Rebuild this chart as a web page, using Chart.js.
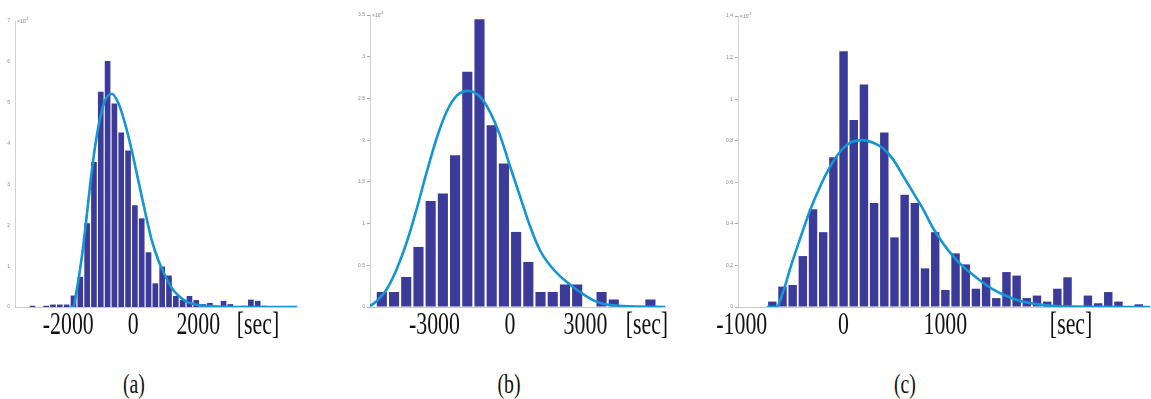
<!DOCTYPE html>
<html>
<head>
<meta charset="utf-8">
<script src="https://cdn.jsdelivr.net/npm/chart.js@4.4.1/dist/chart.umd.min.js"></script>
<style>
  body { margin: 0; width: 1151px; height: 399px; background: #fff; position: relative; overflow: hidden; }
  canvas { position: absolute; top: 0; }
  .cap { position: absolute; top: 368px; width: 80px; text-align: center; font: 28px "Liberation Serif", serif; color: #111; transform: scaleX(0.705); }
</style>
</head>
<body>
<canvas id="chartA" width="320" height="345" style="left:0px"></canvas>
<canvas id="chartB" width="345" height="345" style="left:330px"></canvas>
<canvas id="chartC" width="461" height="345" style="left:690px"></canvas>
<div class="cap" style="left:94px">(a)</div>
<div class="cap" style="left:469px">(b)</div>
<div class="cap" style="left:865px">(c)</div>
<script>
// panel (a): bin centers [sec] and density (x1e-4)
const binsA = [-3100, -2890, -2680, -2470, -2260, -2050, -1840, -1630, -1420, -1210, -1000, -790, -580, -370, -160, 50, 260, 470, 680, 890, 1100, 1310, 1520, 1730, 1940, 2150, 2360, 2570, 2780, 2990, 3200, 3410, 3620, 3830, 4040];
const densA = [0.03, 0, 0.03, 0.06, 0.06, 0.06, 0.28, 0.74, 2.05, 3.55, 5.27, 6.02, 4.98, 4.27, 3.83, 2.49, 2.17, 1.34, 0.58, 0.99, 0.77, 0.27, 0.17, 0.27, 0.17, 0.07, 0.1, 0.03, 0.15, 0.07, 0, 0.03, 0.18, 0.15, 0.03];
const fitXA = [-1950, -1846, -1744, -1641, -1538, -1436, -1333, -1180, -1026, -872, -667, -462, -256, -51, 154, 359, 564, 769, 974, 1179, 1385, 1641, 2051, 2564, 3000, 5040];
const fitYA = [0, 0, 0.4, 0.9, 1.5, 2.2, 2.95, 3.9, 4.6, 5.05, 5.22, 5.0, 4.5, 3.85, 3.1, 2.35, 1.65, 1.15, 0.78, 0.47, 0.28, 0.13, 0.04, 0.01, 0, 0];
const xTicksA = [-2000, 0, 2000];

// panel (b): density (x1e-4)
const binsB = [-5090, -4605, -4120, -3635, -3150, -2665, -2180, -1695, -1210, -725, -240, 245, 730, 1215, 1700, 2185, 2670, 3155, 3640, 4125, 4610, 5095, 5580];
const densB = [0.18, 0.18, 0.36, 0.72, 1.27, 1.36, 1.82, 2.82, 3.45, 2.18, 1.72, 0.9, 0.54, 0.18, 0.18, 0.27, 0.27, 0, 0.18, 0.09, 0, 0, 0.09];
const fitXB = [-5560, -5300, -4903, -4505, -4108, -3710, -3313, -2915, -2518, -2120, -1656, -1193, -795, -398, 0, 398, 795, 1193, 1590, 1988, 2385, 2783, 3313, 3700, 4108, 5168, 6160];
const fitYB = [0.01, 0.07, 0.21, 0.45, 0.77, 1.17, 1.61, 2.02, 2.34, 2.53, 2.59, 2.52, 2.34, 2.06, 1.69, 1.33, 0.97, 0.68, 0.5, 0.37, 0.27, 0.18, 0.08, 0.04, 0.02, 0.004, 0];
const xTicksB = [-3000, 0, 3000];

// panel (c): density (x1e-3)
const binsC = [-700, -600, -500, -400, -300, -200, -100, 0, 100, 200, 300, 400, 500, 600, 700, 800, 900, 1000, 1100, 1200, 1300, 1400, 1500, 1600, 1700, 1800, 1900, 2000, 2100, 2200, 2300, 2400, 2500, 2600, 2700, 2800, 2900];
const densC = [0.026, 0.098, 0.106, 0.245, 0.47, 0.36, 0.72, 1.23, 0.9, 1.07, 0.5, 0.84, 0.335, 0.54, 0.5, 0.186, 0.36, 0.082, 0.258, 0.205, 0.088, 0.143, 0.043, 0.168, 0.151, 0.043, 0.055, 0.026, 0.088, 0.143, 0.005, 0.055, 0.018, 0.072, 0.026, 0.005, 0.013];
const fitXC = [-752, -661, -589, -524, -426, -328, -230, -132, -34, 64, 184, 292, 390, 488, 586, 684, 782, 880, 978, 1076, 1174, 1272, 1370, 1468, 1598, 1729, 1892, 2120, 3010];
const fitYC = [0, 0, 0.08, 0.186, 0.33, 0.467, 0.58, 0.675, 0.747, 0.79, 0.803, 0.79, 0.762, 0.709, 0.63, 0.55, 0.47, 0.379, 0.306, 0.245, 0.194, 0.154, 0.117, 0.085, 0.053, 0.03, 0.014, 0.003, 0];
const xTicksC = [-1000, 0, 1000];

const BAR_COLOR = "#3d3b99";
const FIT_COLOR = "#1496d2";

// draws the big serif x labels (squeezed like the scanned figure) + the x10^n note
const labelPlugin = {
    id: "serifLabels",
    afterDraw(chart, args, opts) {
        const ctx = chart.ctx;
        const x = chart.scales.x;
        const area = chart.chartArea;
        ctx.save();
        ctx.fillStyle = "#111";
        ctx.font = '31px "Liberation Serif"';
        ctx.textAlign = "center";
        ctx.textBaseline = "alphabetic";
        const items = opts.ticks.map(v => [v, String(v)]);
        items.push([opts.secAt, "[sec]"]);
        for (const [v, text] of items) {
            ctx.save();
            ctx.translate(x.getPixelForValue(v), 334);
            ctx.scale(0.705, 1);
            ctx.fillText(text, 0, 0);
            ctx.restore();
        }
        // exponent at top of y axis
        ctx.fillStyle = "#888";
        ctx.textAlign = "left";
        ctx.font = '5px "Liberation Sans"';
        ctx.fillText("\u00d710", area.left + 2, area.top + 2);
        ctx.font = '4px "Liberation Sans"';
        ctx.fillText(opts.exp, area.left + 10, area.top - 1);
        ctx.restore();
    }
};

function makeHist(id, p) {
    new Chart(document.getElementById(id), {
        type: "bar",
        data: {
            datasets: [
                {
                    type: "line",
                    data: p.fitX.map((x, i) => ({ x: x, y: p.fitY[i] })),
                    borderColor: FIT_COLOR,
                    borderWidth: 2.6,
                    pointRadius: 0,
                    cubicInterpolationMode: "monotone",
                    order: 0,
                },
                {
                    type: "bar",
                    data: p.bins.map((x, i) => ({ x: x, y: p.dens[i] })),
                    backgroundColor: BAR_COLOR,
                    barPercentage: 0.83,
                    categoryPercentage: 1,
                    order: 1,
                },
            ],
        },
        options: {
            responsive: false,
            animation: false,
            events: [],
            layout: { padding: { left: 0, top: p.top, right: p.right, bottom: 0 } },
            plugins: {
                legend: { display: false },
                tooltip: { enabled: false },
                serifLabels: { ticks: p.xTicks, secAt: p.secAt, exp: p.exp },
            },
            scales: {
                x: {
                    type: "linear",
                    min: p.xMin,
                    max: p.xMax,
                    offset: false,
                    grid: { display: false, offset: false },
                    border: { display: true, color: "#c8c8c8", width: 1 },
                    ticks: { display: false },
                    afterFit(scale) { scale.height = 345 - 307; },
                },
                y: {
                    min: 0,
                    max: p.yMax,
                    grid: { display: p.tickMarks, drawOnChartArea: false, tickLength: 3, color: "#aaa" },
                    border: { display: true, color: "#d0d0d0", width: 1 },
                    ticks: {
                        stepSize: p.yStep,
                        color: "#8a8a8a",
                        font: { size: 5, family: "Liberation Sans" },
                        padding: 2,
                        callback: v => String(parseFloat(Number(v).toFixed(2))),
                    },
                    afterFit(scale) { scale.width = p.yWidth; },
                },
            },
        },
        plugins: [labelPlugin],
    });
}

makeHist("chartA", { bins: binsA, dens: densA, fitX: fitXA, fitY: fitYA, xTicks: xTicksA, secAt: 3840,
    xMin: -3640, xMax: 5040, yMax: 7, yStep: 1, exp: "-4", top: 21, right: 23, yWidth: 15, tickMarks: false });
makeHist("chartB", { bins: binsB, dens: densB, fitX: fitXB, fitY: fitYB, xTicks: xTicksB, secAt: 5440,
    xMin: -5560, xMax: 6160, yMax: 3.5, yStep: 0.5, exp: "-4", top: 15, right: 10, yWidth: 40, tickMarks: true });
makeHist("chartC", { bins: binsC, dens: densC, fitX: fitXC, fitY: fitYC, xTicks: xTicksC, secAt: 2235,
    xMin: -1037, xMax: 3010, yMax: 1.4, yStep: 0.2, exp: "-3", top: 16, right: 1, yWidth: 48, tickMarks: true });
</script>
</body>
</html>
